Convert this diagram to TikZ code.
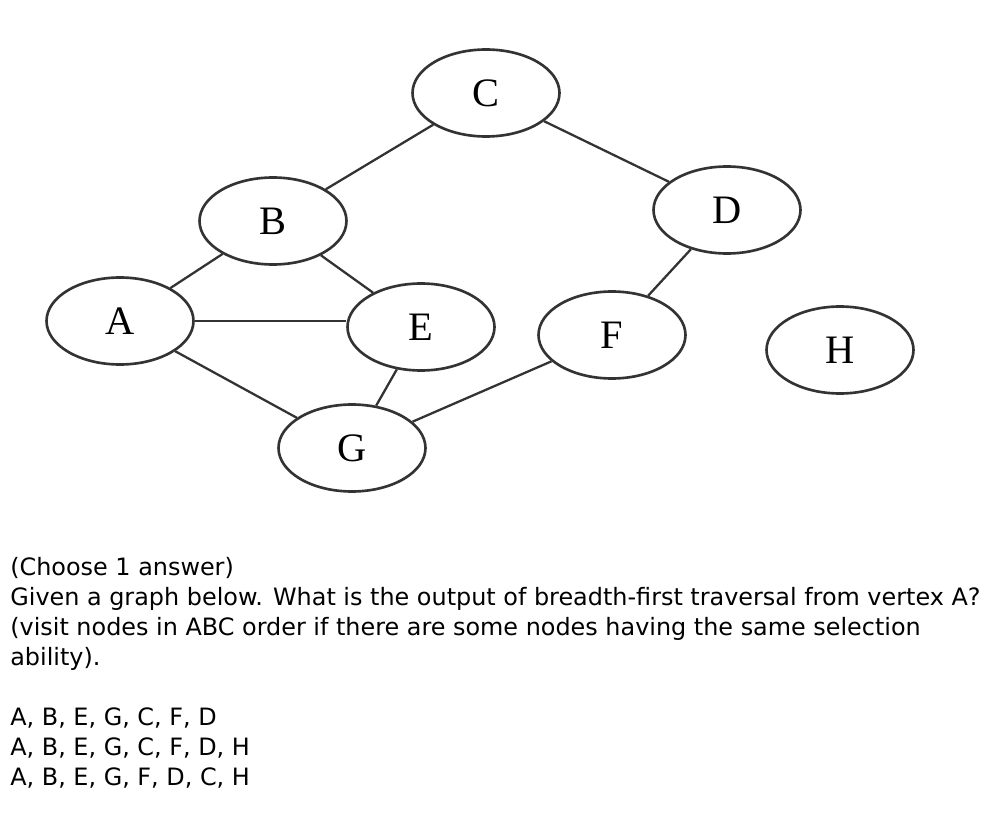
\documentclass[tikz,border=0pt]{standalone}
\usepackage{fontspec}
\setmainfont{Liberation Serif}
\newfontfamily\qfont{DejaVu Sans}
\usetikzlibrary{shapes.geometric}

\begin{document}
\begin{tikzpicture}[
            x=0.02cm, y=-0.02cm,
            vertex/.style={draw=black!80, line width=1.5pt, ellipse, minimum width=2.94cm, minimum height=1.74cm, inner sep=0pt, font=\fontsize{23}{23}\selectfont},
            edge/.style={draw=black!80, line width=1.3pt},
            question/.style={anchor=base west, inner sep=0pt, font=\qfont\fontsize{13.6}{17}\selectfont}
        ]
            \useasboundingbox (0,0) rectangle (1000,814);

            % Vertices
            \node[vertex] (C) at (486,93) {C};
            \node[vertex] (B) at (273,221) {B};
            \node[vertex] (D) at (727,210) {D};
            \node[vertex] (A) at (120,321) {A};
            \node[vertex] (E) at (421,327) {E};
            \node[vertex] (F) at (612,335) {F};
            \node[vertex] (H) at (840,350) {H};
            \node[vertex] (G) at (352,448) {G};

            % Edges
            \draw[edge] (A) -- (B);
            \draw[edge] (A.east) -- (A.east -| E.west);
            \draw[edge] (A) -- (G);
            \draw[edge] (B) -- (C);
            \draw[edge] (B) -- (E);
            \draw[edge] (E) -- (G);
            \draw[edge] (C) -- (D);
            \draw[edge] (D) -- (F);
            \draw[edge] (F) -- (G);

            % Question and answers
            \node[question] (choose) at (10,575) {(Choose 1 answer)};
            \node[question] (given) at (10,605) {Given a graph below. What is the output of breadth-first traversal from vertex A?};
            \node[question] (visit) at (10,635) {(visit nodes in ABC order if there are some nodes having the same selection};
            \node[question] (ability) at (10,665) {ability).};
            \node[question] (ans1) at (10,725) {A, B, E, G, C, F, D};
            \node[question] (ans2) at (10,755) {A, B, E, G, C, F, D, H};
            \node[question] (ans3) at (10,785) {A, B, E, G, F, D, C, H};
        \end{tikzpicture}
\end{document}
